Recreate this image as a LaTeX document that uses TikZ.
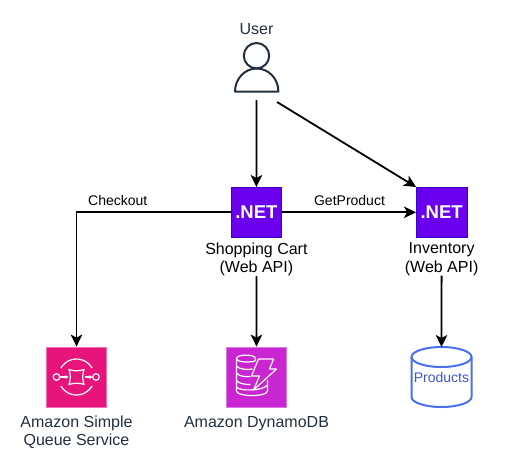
\documentclass[tikz,border=0pt]{standalone}
\usepackage{fontspec}
\setmainfont{Liberation Sans}
\usetikzlibrary{arrows.meta,shapes.geometric}
\definecolor{inkc}{HTML}{232F3E}
\definecolor{netf}{HTML}{6A00EE}
\definecolor{netd}{HTML}{3700CC}
\definecolor{sqsf}{HTML}{E7157B}
\definecolor{sqsd}{HTML}{F06FB0}
\definecolor{dynf}{HTML}{C925D1}
\definecolor{dynd}{HTML}{DD77E2}
\definecolor{cylc}{HTML}{4A6FF0}
\definecolor{cylt}{HTML}{3F56D0}
\tikzset{
  lbl/.style={font=\fontsize{16}{18.5}\selectfont,align=center,text=black,inner sep=0pt},
  awslbl/.style={lbl,text=inkc,font=\fontsize{16}{18}\selectfont},
  flowlbl/.style={font=\fontsize{14}{16}\selectfont,inner sep=0pt,text=black,anchor=base},
  netbox/.style={minimum width=50.5pt,minimum height=50pt,inner sep=0pt,fill=netf,draw=netd,line width=.6pt,text=white,font=\fontsize{18.5}{18.5}\selectfont},
  awsbox/.style={minimum width=60pt,minimum height=60pt,inner sep=0pt,line width=.8pt},
  conn/.style={draw=black,line width=1.8pt,-{Stealth[length=12pt,width=11.5pt,inset=3pt]}},
  glyph/.style={draw=white,line width=1.2pt,line join=round}
}
\begin{document}
\begin{tikzpicture}[x=1pt,y=-1pt]
\useasboundingbox (0,0) rectangle (521,472);
% user
\node[awslbl,anchor=base] (usertext) at (256.5,34) {User};
\draw[inkc,line width=2pt] (256.5,55.7) circle[radius=12.7pt];
\draw[inkc,line width=2pt,line join=round] (235,91.5) arc[start angle=180,end angle=0,x radius=21.7pt,y radius=23pt] -- cycle;
% boxes
\node[netbox] (cart) at (256.4,212.3) {\textbf{.NET}};
\node[netbox] (inv) at (441.6,212.3) {\textbf{.NET}};
\node[lbl,anchor=north] (cartl) at (256.4,242.4) {Shopping Cart\\(Web API)};
\node[lbl,anchor=north] (invl) at (441.6,242.4) {Inventory\\(Web API)};
\node[awsbox,fill=sqsf,draw=sqsd] (sqs) at (76.5,377) {};
\node[awsbox,fill=dynf,draw=dynd] (dyn) at (256.5,377) {};
\node[awslbl,anchor=north] (sqsl) at (76.5,416) {Amazon Simple\\Queue Service};
\node[awslbl,anchor=north] (dynl) at (256.5,416) {Amazon DynamoDB};
% SQS glyph
\begin{scope}[shift={(76.5,377)}]
\draw[glyph] (-15.6,-9) arc[start angle=-150,end angle=-30,radius=18pt,y radius=-18pt];
\draw[glyph] (-15.6,9) arc[start angle=150,end angle=30,radius=18pt,y radius=-18pt];
\draw[glyph] (-20,0) circle[radius=3.3pt];
\draw[glyph] (19.5,0) circle[radius=3.3pt];
\draw[glyph] (-7.5,-7.5) .. controls (-3,-5.8) and (3,-5.8) .. (7.5,-7.5) .. controls (5.8,-3) and (5.8,3) .. (7.5,7.5) .. controls (3,5.8) and (-3,5.8) .. (-7.5,7.5) .. controls (-5.8,3) and (-5.8,-3) .. (-7.5,-7.5) -- cycle;
\draw[glyph,-{Stealth[length=3.5pt,width=4pt]}] (-16.5,0) -- (-8,0);
\draw[glyph,-{Stealth[length=3.5pt,width=4pt]}] (8,0) -- (16,0);
\end{scope}
% DynamoDB glyph
\begin{scope}[shift={(256.5,377)}]
\draw[glyph] (-3,-15.5) .. controls (0,-16) and (-1,-17) .. (-1,-18.5) .. controls (-1,-23) and (-20,-23) .. (-20,-18.5) .. controls (-20,-15) and (-10,-14.5) .. (-3,-15.5);
\draw[glyph] (-20,-18.5) -- (-20,14) .. controls (-20,20) and (11,20) .. (11,14) -- (11,3);
\draw[glyph] (-20,-11) .. controls (-18,-7.5) and (-8,-7) .. (-4,-8);
\draw[glyph] (-20,-4) .. controls (-18,-.5) and (-10,0) .. (-6,-.5);
\draw[glyph] (-20,3.5) .. controls (-18,7) and (-10,7.5) .. (-6,7.5);
\draw[glyph] (-20,10) .. controls (-18,14) and (6,14.5) .. (11,8);
\draw[glyph] (2,-18) -- (17,-18) -- (13,-8) -- (20,-8) -- (-3,13) -- (3,-1) -- (-5,-1) -- cycle;
\end{scope}
% cylinder
\coordinate (cyltop) at (441.5,347);
\draw[cylc,line width=2pt] (441.5,357) ellipse[x radius=30pt,y radius=10pt];
\draw[cylc,line width=2pt] (411.5,357) -- (411.5,397) arc[start angle=180,end angle=360,x radius=30pt,y radius=10pt] -- (471.5,357);
\node[font=\fontsize{14}{16}\selectfont,text=cylt,inner sep=0pt,anchor=base] (prod) at (441.5,382) {Products};
% connectors
\coordinate (u1) at (256.5,100);
\coordinate (u2) at (277,102);
\draw[conn] (u1) -- (cart.north);
\draw[conn] (u2) -- (inv.north west);
\draw[conn] (cart.west) -| (sqs.north);
\draw[conn] (cart.east) -- (inv.west);
\draw[conn] (cartl.south) -- (dyn.north);
\draw[conn] (invl.south) -- (cyltop);
\node[flowlbl] (chk) at (117.8,205.7) {Checkout};
\node[flowlbl] (gp) at (349.5,205.7) {GetProduct};
\end{tikzpicture}
\end{document}
